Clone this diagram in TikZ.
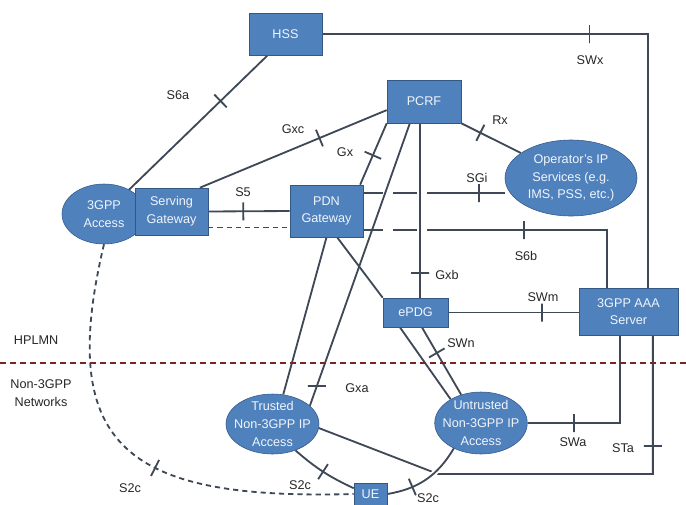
\documentclass[tikz,border=0pt]{standalone}
\usepackage{fontspec}
\setmainfont{Liberation Sans}
\usetikzlibrary{shapes.geometric,backgrounds}
\definecolor{nodefill}{RGB}{79,129,189}
\definecolor{nodeline}{RGB}{52,88,134}
\definecolor{linkcol}{RGB}{62,72,86}
\definecolor{bordercol}{RGB}{122,38,38}

\begin{document}
\begin{tikzpicture}[
  x=0.25mm,y=-0.25mm,
  font=\fontsize{9}{12.5}\selectfont,
  box/.style={rectangle,draw=nodeline,fill=nodefill,text=white!92!nodefill,
              align=center,inner sep=0pt},
  ell/.style={ellipse,draw=nodeline,fill=nodefill,text=white!92!nodefill,
              align=center,inner xsep=-1.4mm,inner ysep=-1mm},
  link/.style={draw=linkcol,line width=1.3pt},
  dotlink/.style={link,dash pattern=on 1.3mm off 1mm},
  mixlink/.style={link,dash pattern=on 5mm off 2.5mm on 6mm off 2.5mm on 100cm},
  ifmark/.style={draw=linkcol,solid,sloped,inner sep=0pt,
                 minimum width=0pt,minimum height=4.5mm},
  hmark/.style={draw=linkcol,solid,inner sep=0pt,
                minimum height=0pt,minimum width=4.5mm},
  lbl/.style={text=black!85},
]
  \useasboundingbox (0,0) rectangle (686,504);

  % --- network elements ---
  \node[ell,minimum width=21mm,minimum height=15mm] (acc) at (104,214) {3GPP\\Access};
  \node[box,minimum width=18.25mm,minimum height=11.75mm] (sgw) at (171.5,211.5) {Serving\\Gateway};
  \node[box,minimum width=18.25mm,minimum height=10.5mm] (hss) at (285.5,34) {HSS};
  \node[box,minimum width=18.5mm,minimum height=10.75mm] (pcrf) at (424,101.5) {PCRF};
  \node[box,minimum width=18.25mm,minimum height=13mm] (pgw) at (326.5,211) {PDN\\Gateway};
  \node[ell,minimum width=33mm,minimum height=19mm] (ops) at (571,178) {Operator's IP\\Services (e.g.\\IMS, PSS, etc.)};
  \node[box,minimum width=16.25mm,minimum height=7.25mm] (epdg) at (415.5,312.5) {ePDG};
  \node[box,minimum width=24.75mm,minimum height=11.75mm] (aaa) at (628.5,311.5) {3GPP AAA\\Server};
  \node[ell,minimum width=23.25mm,minimum height=15mm] (tna) at (272.5,424) {Trusted\\Non-3GPP IP\\Access};
  \node[ell,minimum width=23mm,minimum height=15.5mm] (una) at (481,423) {Untrusted\\Non-3GPP IP\\Access};
  \node[box,minimum width=8.25mm,minimum height=5.5mm] (ue) at (370.5,494) {UE};

  % --- HPLMN / non-3GPP border ---
  \draw[bordercol,line width=1pt,dash pattern=on 1.5mm off 1mm] (0,363) -- (686,363);
  \node[lbl,anchor=west] (hplmn) at (9,340) {HPLMN};
  \node[lbl,align=center] (non3gpp) at (41,393) {Non-3GPP\\Networks};

  % --- reference points ---
  \coordinate (gxbtop) at ([xshift=-1mm]pcrf.south);
  \coordinate (s5low) at ([yshift=-4mm]sgw.east);
  \coordinate (sgiout) at ([yshift=4.5mm]pgw.east);
  \coordinate (s6bout) at ([yshift=-4.75mm]pgw.east);
  \coordinate (stabend) at (438,474);

  \begin{scope}[on background layer]
    % --- core links ---
    \draw[link] (hss.230) -- (acc) node[ifmark,pos=0.34] {};
    \draw[link] (hss.east) -| ([xshift=4.9mm]aaa.north) node[ifmark,pos=0.41] {};
    \draw[link] (sgw.40) -- (pcrf.193) node[ifmark,pos=0.64] {};
    \draw[link] (pgw.38) -- (pcrf.south west) node[ifmark,pos=0.48] {};
    \draw[link] (pcrf.237) -- (tna.26) node[hmark,pos=0.93] {};
    \draw[link] (gxbtop) -- (gxbtop |- epdg.north) node[ifmark,pos=0.86] {};
    \draw[link] (pcrf.south east) -- (ops) node[ifmark,pos=0.32] {};
    \draw[link] (sgw.east) -- (pgw.west) node[ifmark,pos=0.43] {};
    \draw[dotlink] (s5low) -- (s5low -| pgw.west);
    \draw[mixlink] (sgiout) -- (sgiout -| ops.west) node[ifmark,pos=0.82] {};
    \draw[mixlink] (s6bout) -| ([xshift=-5.4mm]aaa.north) node[ifmark,pos=0.33] {};
    \draw[link] (pgw.south) -- (tna.70);
    \draw[link] (pgw.292) -- (epdg.north west);

    % --- non-3GPP links ---
    \draw[link] (epdg.east) -- (epdg.east -| aaa.west) node[ifmark,pos=0.72] {};
    \draw[link] ([xshift=-3.9mm]epdg.south) -- (una.142);
    \draw[link] ([xshift=1.6mm]epdg.south) -- (una.125) node[ifmark,pos=0.38] {};
    \draw[link] (una.east) -| ([xshift=-2.1mm]aaa.south) node[ifmark,pos=0.25] {};
    \draw[link] (tna.355) -- (stabend) -| ([xshift=6.1mm]aaa.south) node[ifmark,pos=0.6] {};

    % --- S2c to the UE ---
    \draw[link] (tna.311) to[bend right=8] node[ifmark,pos=0.5] {} (ue.161);
    \draw[link,preaction={draw=white,line width=4pt}] (una.223) to[bend left=25] node[ifmark,pos=0.7] {} (ue.east);
    \draw[dotlink] (acc.south) .. controls (55,450) and (130,500) .. (ue.west) node[ifmark,pos=0.6] {};
  \end{scope}

  % --- interface labels ---
  \node[lbl] (ls6a) at (178,95) {S6a};
  \node[lbl] (lswx) at (590,60) {SWx};
  \node[lbl] (lgxc) at (293,129) {Gxc};
  \node[lbl] (lgx) at (345,152) {Gx};
  \node[lbl] (lrx) at (500,120) {Rx};
  \node[lbl] (ls5) at (243,192) {S5};
  \node[lbl] (lsgi) at (477,178) {SGi};
  \node[lbl] (ls6b) at (526,256) {S6b};
  \node[lbl] (lgxb) at (447,275) {Gxb};
  \node[lbl] (lswm) at (543,297) {SWm};
  \node[lbl] (lswn) at (461,343) {SWn};
  \node[lbl] (lgxa) at (357,388) {Gxa};
  \node[lbl] (lswa) at (573,442) {SWa};
  \node[lbl] (lsta) at (623,448) {STa};
  \node[lbl] (ls2ca) at (130,488) {S2c};
  \node[lbl] (ls2cb) at (300,485) {S2c};
  \node[lbl] (ls2cc) at (428,498) {S2c};

\end{tikzpicture}
\end{document}
